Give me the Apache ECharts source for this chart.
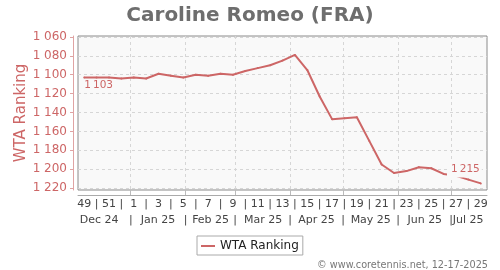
<!DOCTYPE html>
<html><head><meta charset="utf-8">
<script src="https://cdn.jsdelivr.net/npm/echarts@6/dist/echarts.min.js"></script>
<style>html,body{margin:0;padding:0;background:#fff}#c{width:500px;height:270px}</style>
</head><body><div id="c"></div>
<script>
// ---- data ----
const weekLabels = ['49','50','51','52','1','2','3','4','5','6','7','8','9','10','11','12','13','14','15','16','17','18','19','20','21','22','23','24','25','26','27','28','29'];
const ranking = [1103,1103,1103,1104,1103,1104,1099,1101,1103,1100,1101,1099,1100,1096,1093,1090,1085,1079,1095,1123,1147,1146,1145,1170,1195,1204,1202,1198,1199,1205,1207,1211,1215];
const yTicks = [1060,1080,1100,1120,1140,1160,1180,1200,1220];
const monthNames = ['Dec 24','Jan 25','Feb 25','Mar 25','Apr 25','May 25','Jun 25','Jul 25'];
const monthStarts = ['2025-01-01','2025-02-01','2025-03-01','2025-04-01','2025-05-01','2025-06-01','2025-07-01'];
const monthCenters = [1.2, 5.95, 10.2, 14.43, 18.74, 23.12, 27.48, 30.98];
const seriesName = 'WTA Ranking';

// ---- helpers ----
const FONT = 'DejaVu Sans';
const fmtSep = (v, sep) => { const s = String(v); return s.length > 3 ? s.slice(0, s.length-3) + sep + s.slice(-3) : s; };
const fmt = v => fmtSep(v, ' ');
const refT = Date.UTC(2024, 11, 5, 17); // centre of first week slot
const monthBounds = monthStarts.map(d => (Date.parse(d + 'T00:00:00Z') - refT) / (7*864e5));
const weekIdx = weekLabels.map((_, i) => i);
const monthLabelVals = monthCenters.concat(monthBounds);
const monthLabelText = monthNames.concat(monthBounds.map(() => '|'));
function nearestText(v, vals, texts){ let b=0, d=1e9; vals.forEach((x,i)=>{const e=Math.abs(x-v); if(e<d){d=e;b=i;}}); return texts[b]; }

const lineColor = '#cd6666';
const data = ranking.map((v, i) => {
  const item = { value: [i, v] };
  if (i === 0) item.label = { show: true, position: [1, 9], align: 'left', verticalAlign: 'middle', formatter: p => fmtSep(p.value[1], '\u2009') };
  if (i === ranking.length - 1) item.label = { show: true, position: [2, -13.5], align: 'right', verticalAlign: 'middle', backgroundColor: '#f9f9f9', padding: [2, 2, 4, 4], formatter: p => fmtSep(p.value[1], '\u2009') };
  return item;
});

const chart = echarts.init(document.getElementById('c'), null, { renderer: 'canvas' });
chart.setOption({
  animation: false,
  backgroundColor: '#ffffff',
  textStyle: { fontFamily: FONT },
  title: { text: 'Caroline Romeo (FRA)', left: 'center', top: 1,
    textStyle: { fontFamily: FONT, fontSize: 20, fontWeight: 'bold', color: '#6e6e6e' } },
  grid: { left: 78, right: 13, top: 36, bottom: 80, show: true, backgroundColor: '#f9f9f9', borderColor: '#8a8a8a', borderWidth: 1 },
  legend: { left: 197, top: 236, data: [seriesName], icon: 'rect', itemWidth: 14, itemHeight: 2, itemGap: 5,
    borderColor: '#aaaaaa', borderWidth: 1, backgroundColor: '#ffffff', padding: [4, 4, 3, 4], borderRadius: 0,
    textStyle: { fontFamily: FONT, fontSize: 12, color: '#222' } },
  graphic: [{ type: 'text', right: 12, top: 260,
    style: { text: '\u00a9 www.coretennis.net, 12-17-2025', fontFamily: FONT, fontSize: 9.7, fill: '#777' } }],
  xAxis: [
    { type: 'value', min: -0.5, max: 32.5, position: 'bottom', gridIndex: 0,
      axisLine: { show: false, onZero: false },
      axisTick: { show: true, customValues: monthBounds, length: 5, lineStyle: { color: '#bbbbbb' } },
      splitLine: { show: true, customValues: monthBounds, lineStyle: { color: '#d6d6d6', type: [3, 3] } },
      axisLabel: { customValues: monthLabelVals, margin: 25, fontFamily: FONT, fontSize: 11, color: '#444',
        formatter: v => nearestText(v, monthLabelVals, monthLabelText) } },
    { type: 'value', min: -0.5, max: 32.5, position: 'bottom', offset: 5, gridIndex: 0,
      axisLine: { show: true, onZero: false, lineStyle: { color: '#aaaaaa' } },
      axisTick: { show: false },
      splitLine: { show: false },
      axisLabel: { customValues: weekIdx, margin: 4, fontFamily: FONT, fontSize: 11, color: '#444',
        formatter: v => { const i = Math.round(v); return i % 2 === 0 ? weekLabels[i] : '|'; } } }
  ],
  yAxis: {
    type: 'value', inverse: true, min: 1059, max: 1222, offset: 5, position: 'left',
    name: 'WTA Ranking', nameLocation: 'middle', nameGap: 44, nameMoveOverlap: false,
    nameTextStyle: { fontFamily: FONT, fontSize: 15, color: '#cd6666' },
    axisLine: { show: true, onZero: false, lineStyle: { color: '#dfa3a3', width: 1 } },
    axisTick: { show: true, customValues: yTicks, length: 3, lineStyle: { color: '#dfa3a3' } },
    splitLine: { show: true, customValues: yTicks, lineStyle: { color: '#d6d6d6', type: [3, 3] } },
    axisLabel: { customValues: yTicks, margin: 6, fontFamily: FONT, fontSize: 12, color: '#cd6666', formatter: v => fmt(v) }
  },
  series: [{
    name: seriesName, type: 'line', xAxisIndex: 0, data: data,
    symbol: 'circle', symbolSize: 2, showSymbol: true,
    itemStyle: { color: lineColor }, lineStyle: { color: lineColor, width: 2 },
    label: { fontFamily: FONT, fontSize: 10.5, color: lineColor },
    emphasis: { disabled: true }
  }]
});
</script></body></html>
